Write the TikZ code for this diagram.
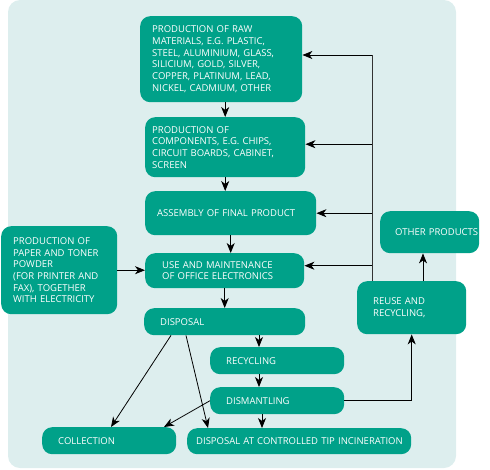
\documentclass[tikz,border=0pt]{standalone}
\usepackage{fontspec}
\setmainfont{Open Sans}
\usetikzlibrary{arrows.meta}
\definecolor{boxteal}{RGB}{0,161,137}
\definecolor{panel}{RGB}{221,238,238}
\newcommand{\bxfont}{\fontsize{9.5pt}{11.7pt}\selectfont\hyphenpenalty=10000\exhyphenpenalty=10000}
\tikzset{
  box/.style={fill=boxteal, text=white, rounded corners=10pt, inner ysep=0pt,
    align=left, font=\bxfont, anchor=north west},
  arr/.style={draw=black, line width=0.8pt, -{Stealth[length=10pt,width=8pt,inset=3pt]}},
  ln/.style={draw=black!80, line width=0.8pt}
}
\begin{document}
\begin{tikzpicture}[x=1pt,y=-1pt]
\useasboundingbox (0,0) rectangle (490,469);
\fill[panel, rounded corners=12pt] (8,0) rectangle (456,468);
% nodes
\node[box, minimum width=162, minimum height=86, text width=138, inner xsep=12] (raw) at (140,16)
 {PRODUCTION~OF~RAW\\MATERIALS,~E.G.~PLASTIC,\\STEEL,~ALUMINIUM,~GLASS,\\SILICIUM,~GOLD,~SILVER,\\COPPER,~PLATINUM,~LEAD,\\NICKEL,~CADMIUM,~OTHER};
\node[box, minimum width=160, minimum height=60, text width=146, inner xsep=7] (comp) at (145,117)
 {PRODUCTION~OF\\COMPONENTS,~E.G.~CHIPS,\\CIRCUIT~BOARDS,~CABINET,\\SCREEN};
\node[box, minimum width=159, minimum height=44, text width=147, inner xsep=12] (asm) at (145,191)
 {ASSEMBLY~OF~FINAL~PRODUCT};
\node[box, minimum width=116, minimum height=88, text width=92, inner xsep=12] (paper) at (1,226)
 {PRODUCTION~OF\\PAPER~AND~TONER\\POWDER\\(FOR~PRINTER~AND\\FAX),~TOGETHER\\WITH~ELECTRICITY};
\node[box, minimum width=159, minimum height=35, text width=125, inner xsep=17] (use) at (145,253)
 {USE~AND~MAINTENANCE\\OF~OFFICE~ELECTRONICS};
\node[box, minimum width=99, minimum height=42, text width=69, inner xsep=15] (other) at (380,211)
 {\mbox{OTHER~PRODUCTS}};
\node[box, minimum width=109, minimum height=53, text width=77, inner xsep=16] (reuse) at (357,281)
 {REUSE~AND\\RECYCLING,};
\node[box, minimum width=161, minimum height=27, text width=129, inner xsep=16] (disp) at (144,308)
 {DISPOSAL};
\node[box, minimum width=134, minimum height=27, text width=102, inner xsep=16] (rec) at (210,347)
 {RECYCLING};
\node[box, minimum width=134, minimum height=27, text width=102, inner xsep=16] (dism) at (210,387)
 {DISMANTLING};
\node[box, minimum width=134, minimum height=27, text width=102, inner xsep=16] (coll) at (42,427)
 {COLLECTION};
\node[box, minimum width=224, minimum height=26, text width=206, inner xsep=9] (ctrl) at (187,428)
 {\mbox{DISPOSAL~AT~CONTROLLED~TIP~INCINERATION}};
% helper coordinates
\coordinate (fb) at (372,55);
\coordinate (dx) at (259,0);
\coordinate (dy) at (262,0);
\coordinate (ro) at (423,0);
\coordinate (ce) at ([yshift=3pt]comp.east);
\coordinate (ue) at ([yshift=5pt]use.east);
% connectors
\draw[arr] (raw.south -| comp.north) -- (comp.north);
\draw[arr] (comp.south) -- (comp.south |- asm.north);
\draw[arr] (asm.south) -- (asm.south |- use.north);
\draw[arr] (use.south) -- (use.south |- disp.north);
\draw[arr] (paper.east) -- (paper.east -| use.west);
\draw[ln] (reuse.north -| fb) -- (fb);
\draw[arr] (fb) -- (fb -| raw.east);
\draw[arr] (fb |- ce) -- (ce);
\draw[arr] (fb |- asm.east) -- (asm.east);
\draw[arr] (fb |- ue) -- (ue);
\draw[arr] (reuse.north -| ro) -- (other.south -| ro);
\draw[arr] (dism.east) -| (reuse.south);
\draw[arr] (disp.south -| dx) -- (rec.north -| dx);
\draw[arr] (rec.south -| dx) -- (dism.north -| dx);
\draw[arr] (dism.south -| dy) -- (ctrl.north -| dy);
\draw[arr] ([xshift=27pt]disp.south west) -- ([xshift=69pt]coll.north west);
\draw[arr] ([xshift=42pt]disp.south west) -- ([xshift=21pt]ctrl.north west);
\draw[arr] (dism.west) -- ([xshift=122pt]coll.north west);
\end{tikzpicture}
\end{document}
